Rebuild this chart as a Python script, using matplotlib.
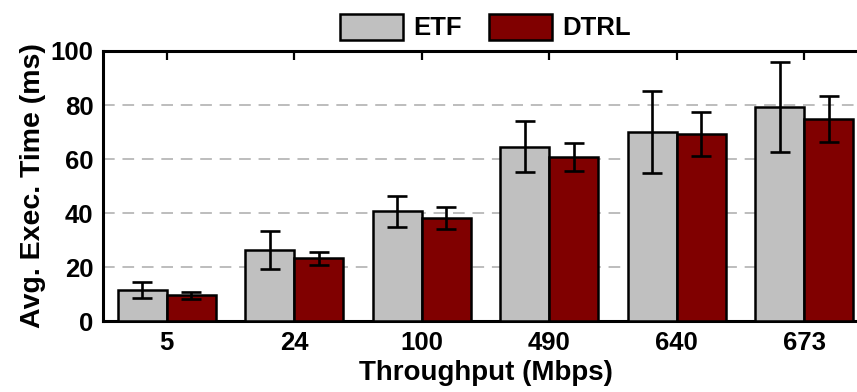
import matplotlib
matplotlib.use("Agg")
import matplotlib.pyplot as plt
import numpy as np

# Average execution time per throughput level
throughput = ["5", "24", "100", "490", "640", "673"]
etf_mean = [11.5, 26.2, 40.6, 64.6, 70.1, 79.1]
etf_std = [2.95, 7.0, 5.7, 9.3, 15.25, 16.65]
dtrl_mean = [9.5, 23.2, 38.2, 60.8, 69.3, 74.8]
dtrl_std = [1.25, 2.5, 4.15, 5.25, 8.15, 8.65]
series_names = ["ETF", "DTRL"]
y_ticks = [0, 20, 40, 60, 80, 100]

plt.rcParams["font.family"] = ["Liberation Sans", "DejaVu Sans"]
plt.rcParams["font.weight"] = "bold"

fig = plt.figure(figsize=(8.57, 3.92), dpi=100)
ax = fig.add_axes([0.1202, 0.1811, 0.8926, 0.6888])

x = np.arange(len(throughput))
w = 0.385
err_kw = dict(ecolor="black", elinewidth=1.9, capsize=7.2, capthick=1.9)

ax.bar(x - w / 2, etf_mean, w, yerr=etf_std, color="#c0c0c0",
       edgecolor="black", linewidth=1.8, label=series_names[0],
       error_kw=err_kw, zorder=3)
ax.bar(x + w / 2, dtrl_mean, w, yerr=dtrl_std, color="#800000",
       edgecolor="black", linewidth=1.8, label=series_names[1],
       error_kw=err_kw, zorder=3)

ax.set_xlim(-0.5, len(throughput) - 0.5)
ax.set_ylim(0, 100)
ax.set_yticks(y_ticks)
ax.set_xticks(x)
ax.set_xticklabels(throughput)

ax.yaxis.grid(True, linestyle=(0, (6, 4)), color="#bdbdbd", linewidth=1.4, zorder=0)
ax.set_axisbelow(True)

for s in ax.spines.values():
    s.set_linewidth(2.2)
    s.set_color("black")

ax.tick_params(axis="x", direction="in", top=True, bottom=True, length=6.5,
               width=1.6, labelsize=18.5, pad=7)
ax.tick_params(axis="y", length=0, labelsize=18.5, pad=7)

ax.set_xlabel("Throughput (Mbps)", fontsize=20, fontweight="bold", labelpad=4)
ax.set_ylabel("Avg. Exec. Time (ms)", fontsize=20.5, fontweight="bold", labelpad=3)

ax.legend(loc="center", bbox_to_anchor=(0.5, 1.089), ncol=2, frameon=False,
          fontsize=18.5, handlelength=2.45, handleheight=1.2, handletextpad=0.4,
          columnspacing=1.05, borderaxespad=0)

fig.savefig("out.png", dpi=100)
